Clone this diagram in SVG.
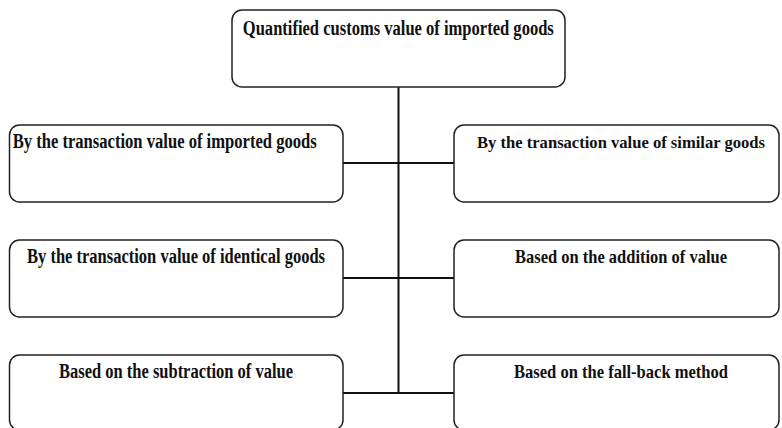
<svg xmlns="http://www.w3.org/2000/svg" width="782" height="428" viewBox="0 0 782 428">
<style>
.box{fill:#fff;stroke:#222;stroke-width:1.5}
.t{font-family:"Liberation Serif","Times New Roman",serif;font-weight:bold;font-size:20px;fill:#111;text-anchor:middle}
.r{font-size:19px}
.s{font-size:17.5px}
.c{fill:none;stroke:#111;stroke-width:2}
</style>
<rect width="782" height="428" fill="#fff"/>
<g id="connectors">
<line class="c" x1="398.5" y1="87" x2="398.5" y2="393"/>
<line class="c" x1="343" y1="163" x2="454" y2="163"/>
<line class="c" x1="343" y1="278" x2="454" y2="278"/>
<line class="c" x1="343" y1="393" x2="454" y2="393"/>
</g>
<g id="root">
<rect class="box" x="232" y="10" width="333" height="77" rx="10"/>
<text class="t" x="398.3" y="35" textLength="311" lengthAdjust="spacingAndGlyphs">Quantified customs value of imported goods</text>
</g>
<g id="n-imported">
<rect class="box" x="9.5" y="125" width="333.5" height="77" rx="10"/>
<text class="t" x="164.7" y="148" textLength="304" lengthAdjust="spacingAndGlyphs">By the transaction value of imported goods</text>
</g>
<g id="n-similar">
<rect class="box" x="454" y="125" width="325" height="77" rx="10"/>
<text class="t s" x="621" y="148" textLength="288" lengthAdjust="spacingAndGlyphs">By the transaction value of similar goods</text>
</g>
<g id="n-identical">
<rect class="box" x="9.5" y="240" width="333.5" height="77" rx="10"/>
<text class="t" x="176" y="263" textLength="298" lengthAdjust="spacingAndGlyphs">By the transaction value of identical goods</text>
</g>
<g id="n-addition">
<rect class="box" x="454" y="240" width="325" height="77" rx="10"/>
<text class="t r" x="621" y="263" textLength="212" lengthAdjust="spacingAndGlyphs">Based on the addition of value</text>
</g>
<g id="n-subtraction">
<rect class="box" x="9.5" y="355" width="333.5" height="75" rx="10"/>
<text class="t" x="176" y="378" textLength="234" lengthAdjust="spacingAndGlyphs">Based on the subtraction of value</text>
</g>
<g id="n-fallback">
<rect class="box" x="454" y="355" width="325" height="75" rx="10"/>
<text class="t r" x="621" y="378" textLength="214" lengthAdjust="spacingAndGlyphs">Based on the fall-back method</text>
</g>
</svg>
